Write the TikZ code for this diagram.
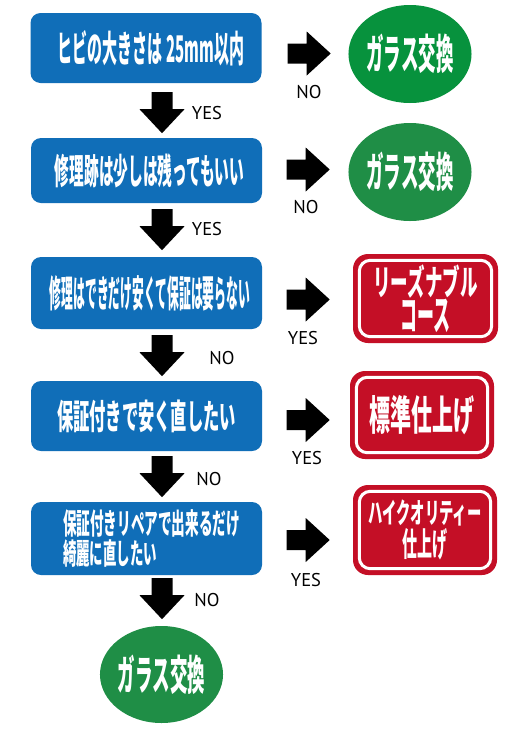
\documentclass[tikz,border=0pt]{standalone}
\usepackage{fontspec}
\setmainfont{PT Sans}
\newfontfamily\jp{Noto Sans CJK JP}
\usetikzlibrary{shapes.geometric,calc}
\definecolor{qblue}{HTML}{106EB8}
\definecolor{ggreenA}{HTML}{07923D}
\definecolor{ggreen}{HTML}{1F8E46}
\definecolor{rred}{HTML}{C40F26}
\newdimen\fittH
\newcommand\fitt[3]{\fittH=#2pt\fittH=1.32\fittH\resizebox*{#1pt}{\fittH}{#3}}
\tikzset{
  qbox/.style={fill=qblue, rounded corners=10pt, minimum width=231pt, inner sep=0pt,
    text=white, font=\jp\bfseries},
  gell/.style={ellipse, fill=ggreen, inner sep=0pt, minimum width=120pt, minimum height=98pt,
    text=white, font=\jp\bfseries},
  rbox/.style={fill=rred, rounded corners=15pt, inner sep=0pt, text=white, align=center},
  innerline/.style={draw=white, line width=3pt, rounded corners=11pt},
  lbl/.style={inner sep=0pt, font=\fontsize{18.5}{18.5}\selectfont},
  pics/downarr/.style={code={\fill (-10.5,0) -- (10.5,0) -- (10.5,17) -- (22.5,17) -- (0,41) -- (-22.5,17) -- (-10.5,17) -- cycle;}},
  pics/rightarr/.style={code={\fill (0,-10) -- (19,-10) -- (19,-22) -- (43,0) -- (19,22) -- (19,10) -- (0,10) -- cycle;}}
}
\begin{document}
\begin{tikzpicture}[x=1pt,y=-1pt]
\useasboundingbox (0,0) rectangle (516,729);
\fill[white] (0,0) rectangle (516,729);

% question boxes
\node[qbox, minimum height=70pt] (b1) at (146,48) {\hspace*{10pt}\fitt{186}{27}{ヒビの大きさは 25mm以内}};
\node[qbox, minimum height=65pt] (b2) at (146.5,170.5) {\hspace*{6pt}\fitt{189}{26}{修理跡は少しは残ってもいい}};
\node[qbox, minimum height=72pt] (b3) at (146.5,293) {\hspace*{7pt}\fitt{200}{27}{修理はできだけ安くて保証は要らない}};
\node[qbox, minimum height=70pt] (b4) at (146.5,416) {\fitt{179}{25}{保証付きで安く直したい}};
\node[qbox, minimum height=73pt, align=left, font={\jp\bfseries\fontsize{10}{30}\selectfont}] (b5) at (146.5,538.5)
  {\hspace*{10pt}\fitt{177}{21}{保証付きリペアで出来るだけ}\\\hspace*{10pt}\fitt{94}{21}{綺麗に直したい}};

% green results
\node[gell, fill=ggreenA] (e1) at (410,54) {\fitt{87}{30}{ガラス交換}};
\node[gell] (e2) at (410,172) {\fitt{87}{30}{ガラス交換}};
\node[gell, minimum width=123pt, minimum height=97pt] (e3) at (161.5,674.5) {\fitt{87}{30}{ガラス交換}};

% red results
\node[rbox, minimum width=145pt, minimum height=89pt, font={\jp\bfseries\fontsize{10}{35}\selectfont}] (r1) at (425.5,298.5)
  {\fitt{104}{25.5}{リーズナブル}\\\fitt{50}{25.5}{コース}};
\node[rbox, minimum width=144pt, minimum height=88pt, font={\jp\bfseries}] (r2) at (422,415)
  {\fitt{105}{30}{標準仕上げ}};
\node[rbox, minimum width=144pt, minimum height=90pt, font={\jp\bfseries\fontsize{10}{33}\selectfont}] (r3) at (425,530)
  {\fitt{113}{20}{ハイクオリティー}\\\fitt{45}{24}{仕上げ}};
\foreach \r in {r1,r2,r3}{
  \draw[innerline] ($(\r.north west)+(6.5,6.5)$) rectangle ($(\r.south east)+(-6.5,-6.5)$);
}

% block arrows
\coordinate (d1) at ($(b1.south)+(16,9)$);
\coordinate (d2) at ($(b2.south)+(15.5,6)$);
\coordinate (d3) at ($(b3.south)+(15.5,6)$);
\coordinate (d4) at ($(b4.south)+(15.5,5)$);
\coordinate (d5) at ($(b5.south)+(15.5,3)$);
\foreach \d in {d1,d2,d3,d4,d5}{ \pic at (\d) {downarr}; }
\coordinate (a1) at ($(b1.east)+(26,5.5)$);
\coordinate (a2) at ($(b2.east)+(24.5,-1)$);
\coordinate (a3) at ($(b3.east)+(24.5,6.5)$);
\coordinate (a4) at ($(b4.east)+(24.5,4)$);
\coordinate (a5) at ($(b5.east)+(24.5,1.5)$);
\foreach \a in {a1,a2,a3,a4,a5}{ \pic at (\a) {rightarr}; }

% labels
\node[lbl] (ly1) at (207,113) {YES};
\node[lbl] (ly2) at (207,229) {YES};
\node[lbl] (ln3) at (222,358) {NO};
\node[lbl] (ln4) at (209,479) {NO};
\node[lbl] (ln5) at (207,600) {NO};
\node[lbl] (rn1) at (309,92) {NO};
\node[lbl] (rn2) at (306,207) {NO};
\node[lbl] (ry3) at (303,338) {YES};
\node[lbl] (ry4) at (307,458) {YES};
\node[lbl] (ry5) at (306,580) {YES};
\end{tikzpicture}
\end{document}
